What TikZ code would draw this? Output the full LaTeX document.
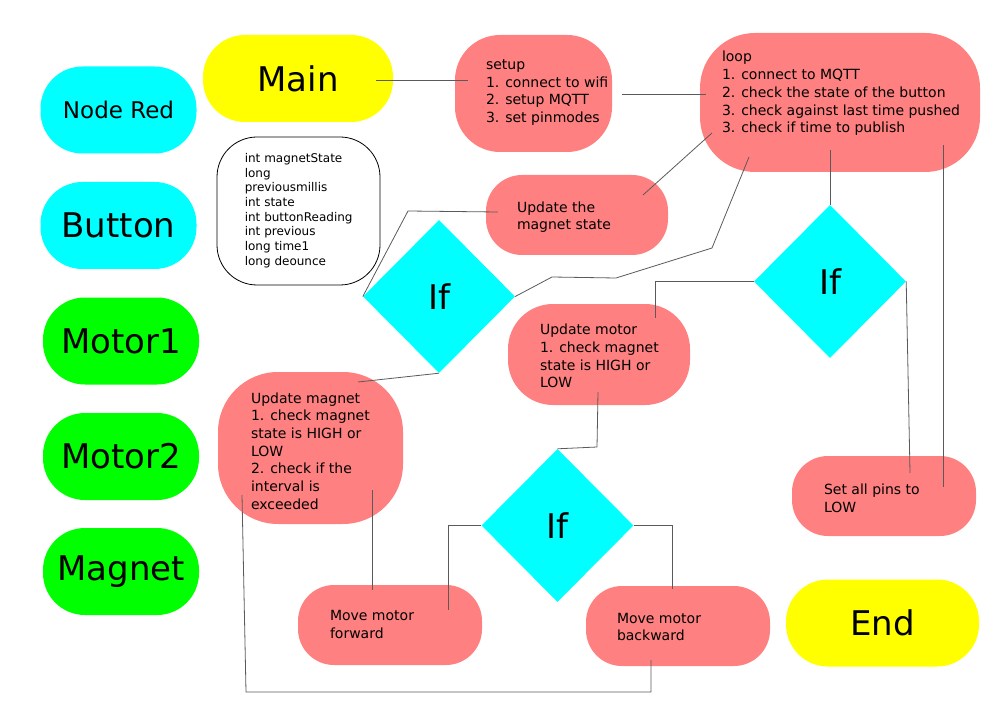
\documentclass[tikz,border=0pt]{standalone}
\usepackage{fontspec}
\setmainfont{DejaVu Sans}
\usepackage{tikz}
\usetikzlibrary{shapes.geometric,calc}
\definecolor{pinkfill}{HTML}{FF8080}
\definecolor{ifcyan}{HTML}{00FFFF}
\definecolor{partgreen}{HTML}{00FF00}
\definecolor{startyellow}{HTML}{FFFF00}
\definecolor{wiregray}{HTML}{5A5A5A}

\begin{document}
\begin{tikzpicture}[x=1pt,y=-1pt,
		big/.style={font=\fontsize{34}{40}\selectfont},
		pill/.style={rounded corners=42pt, minimum width=156pt, minimum height=87pt, inner sep=0pt, big},
		pinkbox/.style={fill=pinkfill, rounded corners=36pt, minimum width=184pt, minimum height=80pt, inner sep=0pt},
		boxtext/.style={anchor=west, align=left, inner sep=0pt, font=\fontsize{14}{17.7}\selectfont},
		ifnode/.style={diamond, fill=ifcyan, minimum width=152pt, minimum height=153pt, inner sep=0pt, big},
		wire/.style={draw=wiregray, line width=0.8pt}]
	\useasboundingbox (0,0) rectangle (1000,708);
	
	% Legend column
	\node[pill, fill=ifcyan, font=\fontsize{23}{28}\selectfont] (nodered) at (118.5,110) {Node Red};
	\node[pill, fill=ifcyan] (button) at (118.5,225.5) {Button};
	\node[pill, fill=partgreen] (motor1) at (121,341) {Motor1};
	\node[pill, fill=partgreen] (motor2) at (121,456.5) {Motor2};
	\node[pill, fill=partgreen] (magnet) at (121,571.5) {Magnet};
	
	% Start and finish
	\node[pill, fill=startyellow, minimum width=190pt] (main) at (298,78.5) {Main};
	\node[pill, fill=startyellow, minimum width=193pt] (finish) at (882.5,623) {End};
	
	% Variables
	\node[draw=black, fill=white, line width=0.8pt, rounded corners=40pt, minimum width=163pt, minimum height=148pt] (vars) at (298.5,211) {};
	\node[boxtext, font=\fontsize{12}{14.7}\selectfont] (varstext) at ($(vars.west)+(28,-0.5)$) {int magnetState\\long\\previousmillis\\int state\\int buttonReading\\int previous\\long time1\\long deounce};
	
	% Setup and loop
	\node[pinkbox, minimum width=157pt, minimum height=117pt, rounded corners=45pt] (setup) at (533.5,93.5) {};
	\node[boxtext] (setuptext) at ($(setup.west)+(31,-1)$) {setup\\1. connect to wifi\\2. setup MQTT\\3. set pinmodes};
	\node[pinkbox, minimum width=280pt, minimum height=139pt, rounded corners=55pt] (loop) at (840,102.5) {};
	\node[boxtext] (looptext) at ($(loop.west)+(22,-9)$) {loop\\1. connect to MQTT\\2. check the state of the button\\3. check against last time pushed\\3. check if time to publish};
	
	% Tasks
	\node[pinkbox, minimum width=182pt] (updstate) at (577,215) {};
	\node[boxtext] (updstatetext) at ($(updstate.west)+(31,2)$) {Update the\\magnet state};
	\node[pinkbox, minimum width=182pt, minimum height=101pt, rounded corners=45pt] (updmotor) at (599,354.5) {};
	\node[boxtext] (updmotortext) at ($(updmotor.west)+(32,1.5)$) {Update motor\\1. check magnet\\state is HIGH or\\LOW};
	\node[pinkbox, minimum width=185pt, minimum height=152pt, rounded corners=60pt] (updmagnet) at (310.5,448) {};
	\node[boxtext] (updmagnettext) at ($(updmagnet.west)+(33,3)$) {Update magnet\\1. check magnet\\state is HIGH or\\LOW\\2. check if the\\interval is\\exceeded};
	\node[pinkbox] (setpins) at (884,496) {};
	\node[boxtext] (setpinstext) at ($(setpins.west)+(32,2)$) {Set all pins to\\LOW};
	\node[pinkbox] (fwd) at (390,625) {};
	\node[boxtext] (fwdtext) at ($(fwd.west)+(32,-0.5)$) {Move motor\\forward};
	\node[pinkbox] (bwd) at (678,626) {};
	\node[boxtext] (bwdtext) at ($(bwd.west)+(31,1)$) {Move motor\\backward};
	
	% Decisions
	\node[ifnode] (if1) at (439,296.5) {If};
	\node[ifnode] (if2) at (830,281.5) {If};
	\node[ifnode] (if3) at (557.5,525.5) {If};
	
	% Connectors
	\draw[wire] ($(main.east)+(-17,1.5)$) -- ($(setup.west)+(13,-13.5)$);
	\draw[wire] ($(setup.east)+(10,0.5)$) -- ($(loop.west)+(6,-8.5)$);
	\draw[wire] ($(loop.center)+(-128,30.5)$) -- ($(updstate.center)+(66,-20)$);
	\draw[wire] ($(loop.center)+(-91,54.5)$) -- (712,248) -- (616,278) -- (552,277) -- (if1.east);
	\draw[wire] ($(updstate.west)+(12,-3)$) -- (408,211) -- (if1.west);
	\draw[wire] (if1.south) -- ($(updmagnet.center)+(47.5,-66)$);
	\draw[wire] ($(loop.center)+(-10,47.5)$) -- (if2.north);
	\draw[wire] (if2.west) -| ($(updmotor.center)+(56,-36.5)$);
	\draw[wire] (if2.east) -- ($(setpins.center)+(26,-23)$);
	\draw[wire] ($(loop.center)+(103,42.5)$) -- ($(setpins.center)+(59,-9)$);
	\draw[wire] ($(updmotor.center)+(-1,37.5)$) -- (597,447) -- (if3.north);
	\draw[wire] (if3.west) -| ($(fwd.center)+(58,-15)$);
	\draw[wire] (if3.east) -| ($(bwd.center)+(-6,-37)$);
	\draw[wire] ($(updmagnet.center)+(61.5,42)$) -- ($(fwd.center)+(-18,-35)$);
	\draw[wire] ($(updmagnet.center)+(-68.5,47)$) -- (246,692) -| ($(bwd.center)+(-27,34)$);
	
\end{tikzpicture}
\end{document}
